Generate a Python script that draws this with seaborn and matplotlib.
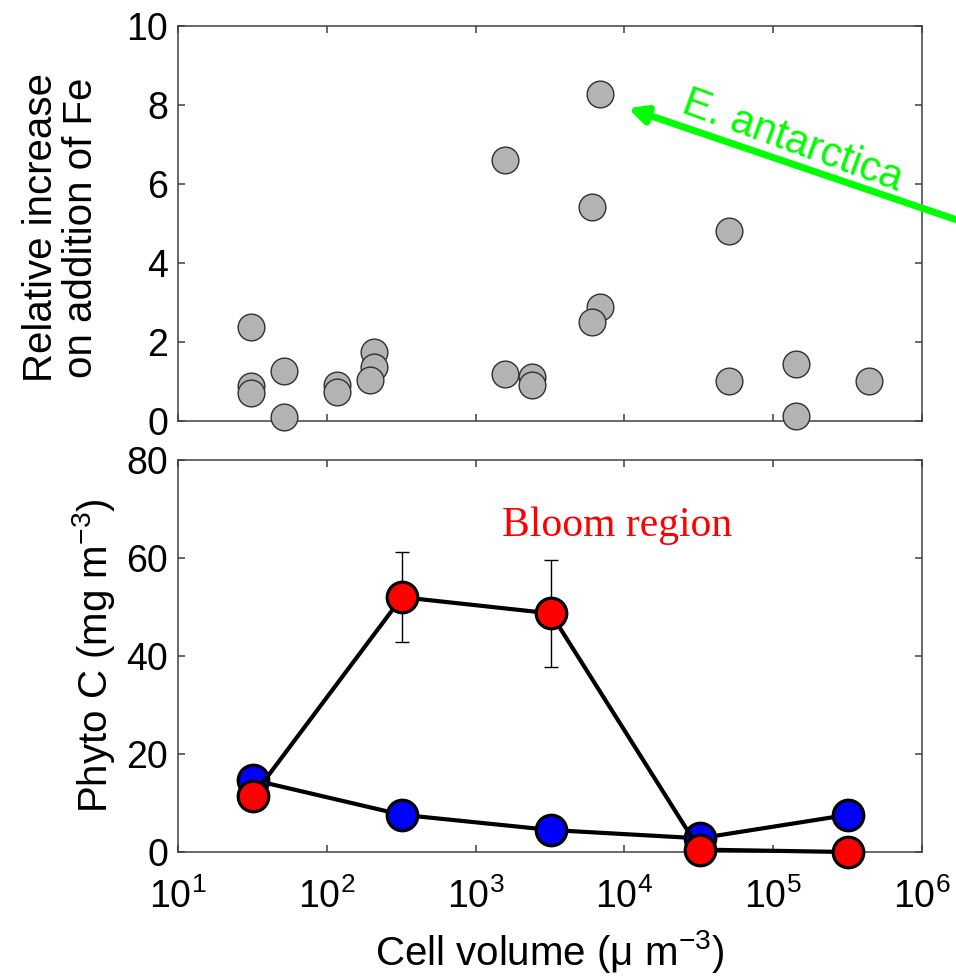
import numpy as np
import pandas as pd
import matplotlib
matplotlib.use("Agg")
import matplotlib.pyplot as plt
import seaborn as sns

# top panel: relative increase on Fe addition vs cell volume
top_volume = [31.0, 31.0, 31.0, 51.5, 51.5, 117, 117, 207, 207, 195,
              1580, 1580, 2390, 2390, 6860, 6050, 6860, 6050,
              50500, 50500, 142000, 142000, 441000]
top_increase = [2.38, 0.89, 0.71, 1.27, 0.10, 0.91, 0.73, 1.75, 1.37, 1.04,
                6.60, 1.19, 1.11, 0.91, 8.28, 5.42, 2.89, 2.51,
                4.81, 1.01, 1.44, 0.13, 1.01]

# bottom panel: phyto carbon per size class
size_class = [32, 320, 3200, 32000, 320000]
blue_carbon = [14.7, 7.6, 4.5, 2.8, 7.6]
red_carbon = [11.5, 52.0, 48.7, 0.5, 0.0]
red_err = [0.0, 9.2, 10.9, 0.0, 0.0]

top_yticks = [0, 2, 4, 6, 8, 10]
bottom_yticks = [0, 20, 40, 60, 80]
x_ticks = [1e1, 1e2, 1e3, 1e4, 1e5, 1e6]

sns.set_style("white")
plt.rcParams["font.family"] = ["Liberation Sans", "DejaVu Sans"]
plt.rcParams["mathtext.fontset"] = "custom"
plt.rcParams["mathtext.rm"] = "Liberation Sans"
plt.rcParams["mathtext.it"] = "Liberation Sans:italic"
plt.rcParams["mathtext.default"] = "regular"
plt.rcParams["text.color"] = "black"
plt.rcParams["axes.labelcolor"] = "black"

spine_col = "#404040"
fs = 27  # tick labels
lfs = 29  # axis labels

fig = plt.figure(figsize=(9.56, 9.77), dpi=100)
ax_top = fig.add_axes([0.1862, 0.5691, 0.7782, 0.4043])
ax_bot = fig.add_axes([0.1862, 0.1279, 0.7782, 0.4013])

# --- top panel ---
df_top = pd.DataFrame({"volume": top_volume, "increase": top_increase})
sns.scatterplot(data=df_top, x="volume", y="increase", ax=ax_top, s=370,
                color="#b3b3b3", edgecolor="#303030", linewidth=1.0,
                zorder=3, clip_on=False)
ax_top.set_xscale("log")
ax_top.set_xlim(1e1, 1e6)
ax_top.set_ylim(0, 10)
ax_top.set_yticks(top_yticks)
ax_top.set_xticks(x_ticks)
ax_top.set_xticklabels([])
ax_top.minorticks_off()
ax_top.set_xlabel("")
ax_top.set_ylabel("Relative increase\non addition of Fe", fontsize=lfs,
                  linespacing=1.05)
ax_top.yaxis.set_label_coords(-0.105, 0.49)

# E. antarctica arrow
ax_top.annotate("", xy=(10580, 7.92), xytext=(10 ** 6.39, 4.89),
                arrowprops=dict(arrowstyle="-|>", color="#00ff00", lw=5,
                                mutation_scale=26, shrinkA=0, shrinkB=0),
                annotation_clip=False)
ax_top.text(10 ** 5.13, 7.08, "E. antarctica", color="#00ff00", fontsize=30,
            rotation=-20, rotation_mode="anchor", ha="center", va="center",
            clip_on=False)

# --- bottom panel ---
df_blue = pd.DataFrame({"size": size_class, "carbon": blue_carbon})
df_red = pd.DataFrame({"size": size_class, "carbon": red_carbon})
ax_bot.errorbar(size_class, red_carbon, yerr=red_err, fmt="none",
                ecolor="black", elinewidth=1.0, capsize=4.7, capthick=1.0,
                zorder=2)
sns.lineplot(data=df_blue, x="size", y="carbon", ax=ax_bot, color="black",
             lw=3, marker="o", markersize=22, markerfacecolor="#0000ff",
             markeredgecolor="black", markeredgewidth=2.3, zorder=3,
             clip_on=False)
sns.lineplot(data=df_red, x="size", y="carbon", ax=ax_bot, color="black",
             lw=3, marker="o", markersize=22, markerfacecolor="#ff0000",
             markeredgecolor="black", markeredgewidth=2.3, zorder=4,
             clip_on=False)
ax_bot.set_xscale("log")
ax_bot.set_xlim(1e1, 1e6)
ax_bot.set_ylim(0, 80)
ax_bot.set_yticks(bottom_yticks)
ax_bot.set_xticks(x_ticks)
ax_bot.minorticks_off()
ax_bot.set_ylabel("Phyto C (mg m$^{-3}$)", fontsize=lfs)
ax_bot.yaxis.set_label_coords(-0.082, 0.5)
ax_bot.set_xlabel("Cell volume (\u03bc m$^{-3}$)", fontsize=lfs, va="top")
ax_bot.xaxis.set_label_coords(0.5, -0.195)
ax_bot.text(8900, 66.5, "Bloom region", color="#ff0000", fontsize=30,
            family=["Liberation Serif", "DejaVu Serif"], ha="center",
            va="center")

# matlab-like box with inward ticks
for ax in (ax_top, ax_bot):
    for sp in ax.spines.values():
        sp.set_visible(True)
        sp.set_color(spine_col)
        sp.set_linewidth(1.1)
    ax.tick_params(which="both", direction="in", length=5, width=1.1,
                   color=spine_col, labelcolor="black", top=True, right=True,
                   bottom=True, left=True, labelsize=fs)
    ax.tick_params(axis="y", pad=7)
    ax.tick_params(axis="x", pad=19)
    ax.set_facecolor("white")

fig.savefig("out.png", dpi=100)
